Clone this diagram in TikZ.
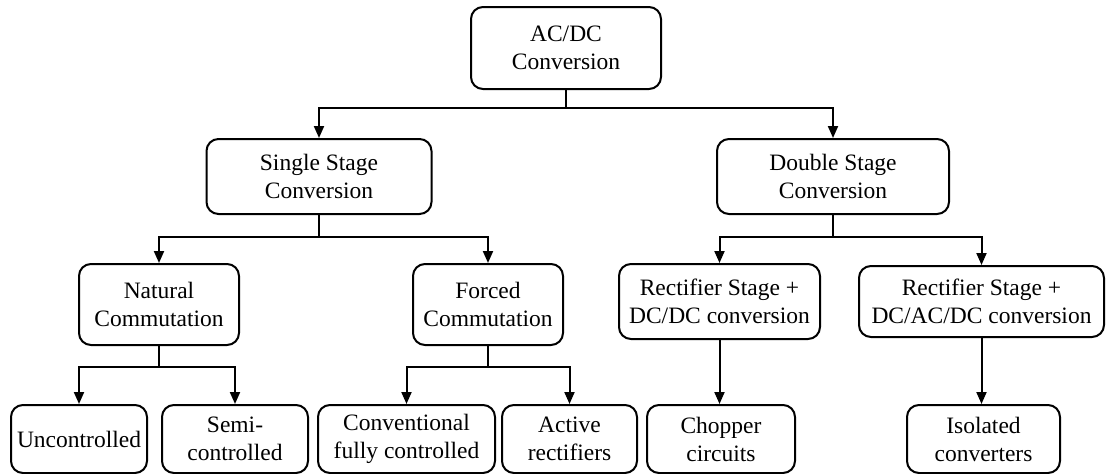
\documentclass[tikz,border=0pt]{standalone}
\usepackage{fontspec}
\setmainfont{LiberationSerif}[Extension=.ttf,UprightFont=*-Regular,BoldFont=*-Bold]
\usetikzlibrary{arrows.meta}
\begin{document}
\begin{tikzpicture}[x=1pt,y=-1pt,
  box/.style={draw,line width=2pt,rounded corners=12pt,align=center,inner sep=0pt,
    font=\rmfamily\fontsize{23.5}{28}\selectfont},
  arr/.style={line width=2pt,-{Triangle[length=12pt,width=10pt]}}]
\useasboundingbox (0,0) rectangle (1109,474);
\node[box,minimum width=190pt,minimum height=82pt] (root) at (566,48) {AC/DC\\Conversion};
\node[box,minimum width=225pt,minimum height=75pt] (single) at (319,176.5) {Single Stage\\Conversion};
\node[box,minimum width=232pt,minimum height=75pt] (double) at (833,176.5) {Double Stage\\Conversion};
\node[box,minimum width=160pt,minimum height=81pt] (natural) at (159,304.5) {Natural\\Commutation};
\node[box,minimum width=150pt,minimum height=81pt] (forced) at (488,304.5) {Forced\\Commutation};
\node[box,minimum width=201pt,minimum height=75pt] (rect1) at (719.5,301.5) {Rectifier Stage +\\DC/DC conversion};
\node[box,minimum width=245pt,minimum height=71pt] (rect2) at (981.5,301.5) {Rectifier Stage +\\DC/AC/DC conversion};
\node[box,minimum width=136pt,minimum height=68pt] (unc) at (79,439) {Uncontrolled};
\node[box,minimum width=146pt,minimum height=68pt] (semi) at (235,439) {Semi-\\controlled};
\node[box,minimum width=177pt,minimum height=68pt] (conv) at (406.5,439) {Conventional\\fully controlled};
\node[box,minimum width=135pt,minimum height=68pt] (active) at (569.5,439) {Active\\rectifiers};
\node[box,minimum width=148pt,minimum height=68pt] (chop) at (721,439) {Chopper\\circuits};
\node[box,minimum width=153pt,minimum height=68pt] (iso) at (983.5,439) {Isolated\\converters};
% root fork
\draw[arr] (root.south) -- ++(0,18) -| (single.north);
\draw[arr] (root.south) -- ++(0,18) -| (double.north);
% single fork
\draw[arr] (single.south) -- ++(0,22) -| (natural.north);
\draw[arr] (single.south) -- ++(0,22) -| (forced.north);
% double fork
\draw[arr] (double.south) -- ++(0,22) -| (rect1.north);
\draw[arr] (double.south) -- ++(0,22) -| (rect2.north);
% natural fork
\draw[arr] (natural.south) -- ++(0,21) -| (unc.north);
\draw[arr] (natural.south) -- ++(0,21) -| (semi.north);
% forced fork
\draw[arr] (forced.south) -- ++(0,21) -| (conv.north);
\draw[arr] (forced.south) -- ++(0,21) -| (active.north);
% straight
\draw[arr] (rect1.south) -- (rect1.south |- chop.north);
\draw[arr] (rect2.south) -- (rect2.south |- iso.north);
\end{tikzpicture}
\end{document}
